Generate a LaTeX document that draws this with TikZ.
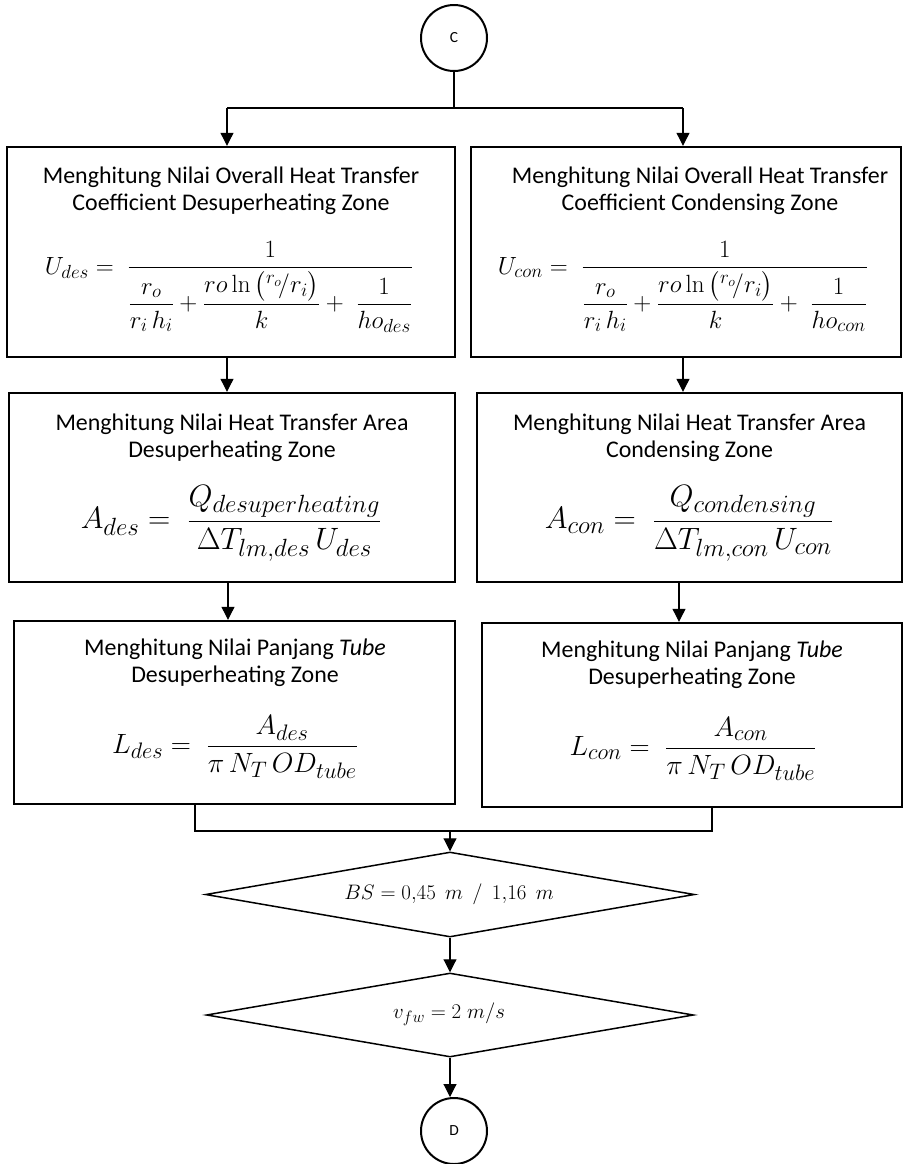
\documentclass[tikz,border=0pt]{standalone}
\usepackage{fix-cm}
\usepackage{amsmath}
\usepackage[no-math]{fontspec}
\setmainfont{Carlito}
\usetikzlibrary{shapes.geometric,arrows.meta}
% roomier subscripts for the larger formulas
\DeclareMathSizes{31}{31}{25}{19}
\DeclareMathSizes{28}{28}{22.5}{17}
\DeclareMathSizes{25}{25}{19}{14}
\DeclareMathSizes{21}{21}{16.5}{12.5}
\begin{document}
\begin{tikzpicture}[x=1bp,y=-1bp,
  line/.style={line width=1.1bp},
  arr/.style={line width=1.1bp,-{Triangle[width=13bp,length=13bp]}},
  procbox/.style={draw,line width=2.4bp,rectangle,inner sep=0pt},
  title/.style={font=\fontsize{24}{27.5}\selectfont,align=center,inner sep=0pt},
  eqbig/.style={font=\fontsize{25}{30}\selectfont,inner sep=0pt,anchor=base},
  eqlarge/.style={font=\fontsize{31}{36}\selectfont,inner sep=0pt,anchor=base},
  eqmid/.style={font=\fontsize{28}{33}\selectfont,inner sep=0pt,anchor=base},
  eqsmall/.style={font=\fontsize{21}{25}\selectfont,inner sep=0pt},
  decision/.style={draw,diamond,line width=1.5bp,inner sep=0pt},
  connector/.style={draw,circle,line width=2bp,minimum size=66bp,inner sep=0pt,font=\fontsize{15.5}{18}\selectfont},
]
\useasboundingbox (0,0) rectangle (904,1164);

% off-page connectors
\node[connector] (C) at (454,38) {C};
\node[connector] (D) at (454,1131) {D};

% process boxes
\node[procbox,minimum width=448bp,minimum height=210bp] (b1L) at (231,252) {};
\node[procbox,minimum width=430bp,minimum height=210bp] (b1R) at (686,252) {};
\node[procbox,minimum width=446bp,minimum height=189bp] (b2L) at (232,487.5) {};
\node[procbox,minimum width=425bp,minimum height=189bp] (b2R) at (689.5,487.5) {};
\node[procbox,minimum width=441bp,minimum height=183bp] (b3L) at (234.5,712.5) {};
\node[procbox,minimum width=420bp,minimum height=184bp] (b3R) at (692,715) {};

% decisions
\node[decision,minimum width=489bp,minimum height=85bp] (d1) at (450,894.5) {};
\node[decision,minimum width=487bp,minimum height=84bp] (d2) at (450,1015) {};

% box titles
\node[title] (t1L) at (231,191) {Menghitung Nilai Overall Heat Transfer\\Coefficient Desuperheating Zone};
\node[title] (t1R) at (700,191) {Menghitung Nilai Overall Heat Transfer\\Coefficient Condensing Zone};
\node[title] (t2L) at (232,438) {Menghitung Nilai Heat Transfer Area\\Desuperheating Zone};
\node[title] (t2R) at (689.5,438) {Menghitung Nilai Heat Transfer Area\\Condensing Zone};
\node[title] (t3L) at (235,663) {Menghitung Nilai Panjang \textit{Tube}\\Desuperheating Zone};
\node[title] (t3R) at (692,665) {Menghitung Nilai Panjang \textit{Tube}\\Desuperheating Zone};

% formulas
\node[eqbig] (f1L) at (229,274.2) {$\displaystyle U_{des} = \;\frac{1}{\dfrac{r_o}{r_i\,h_i} + \dfrac{ro\ln\,\bigl({}^{r_o}\!/r_i\bigr)}{k} + \;\dfrac{1}{ho_{des}}}$};
\node[eqbig] (f1R) at (683,274.2) {$\displaystyle U_{con} = \;\frac{1}{\dfrac{r_o}{r_i\,h_i} + \dfrac{ro\ln\,\bigl({}^{r_o}\!/r_i\bigr)}{k} + \;\dfrac{1}{ho_{con}}}$};
\node[eqlarge] (f2L) at (231,528.8) {$\displaystyle A_{des} = \;\frac{Q_{desuperheating}}{\Delta T_{lm,des}\,U_{des}}$};
\node[eqlarge] (f2R) at (689,528.8) {$\displaystyle A_{con} = \;\frac{Q_{condensing}}{\Delta T_{lm,con}\,U_{con}}$};
\node[eqmid] (f3L) at (235,753) {$\displaystyle L_{des} = \;\frac{A_{des}}{\pi\,N_T\,OD_{tube}}$};
\node[eqmid] (f3R) at (693,755) {$\displaystyle L_{con} = \;\frac{A_{con}}{\pi\,N_T\,OD_{tube}}$};

% decision texts
\node[eqsmall] (q1) at (449,894) {$BS = 0{,}45\,\;m\;\,/\;\,1{,}16\,\;m$};
\node[eqsmall] (q2) at (449,1014) {$v_{fw} = 2\;m/s$};

% connectors
\coordinate (jC) at (454,108);
\coordinate (tL) at (227,108);
\coordinate (tR) at (683,108);
\coordinate (aL1) at (227,0);
\coordinate (aR1) at (683,0);
\coordinate (aL2) at (228,0);
\coordinate (aR2) at (679,0);
\coordinate (mL) at (195,831);
\coordinate (mR) at (712,831);
\coordinate (mC) at (450,831);

\draw[line] (C) -- (jC);
\draw[line] (tL) -- (tR);
\draw[arr] (tL) -- (tL |- b1L.north);
\draw[arr] (tR) -- (tR |- b1R.north);
\draw[arr] (b1L.south -| aL1) -- (b2L.north -| aL1);
\draw[arr] (b1R.south -| aR1) -- (b2R.north -| aR1);
\draw[arr] (b2L.south -| aL2) -- (b3L.north -| aL2);
\draw[arr] (b2R.south -| aR2) -- (b3R.north -| aR2);
\draw[line] (b3L.south -| mL) -- (mL) -- (mR) -- (b3R.south -| mR);
\draw[arr] (mC) -- (d1.north);
\draw[arr] (d1.south) -- (d2.north);
\draw[arr] (d2.south) -- (d2.south |- D.north);
\end{tikzpicture}
\end{document}
